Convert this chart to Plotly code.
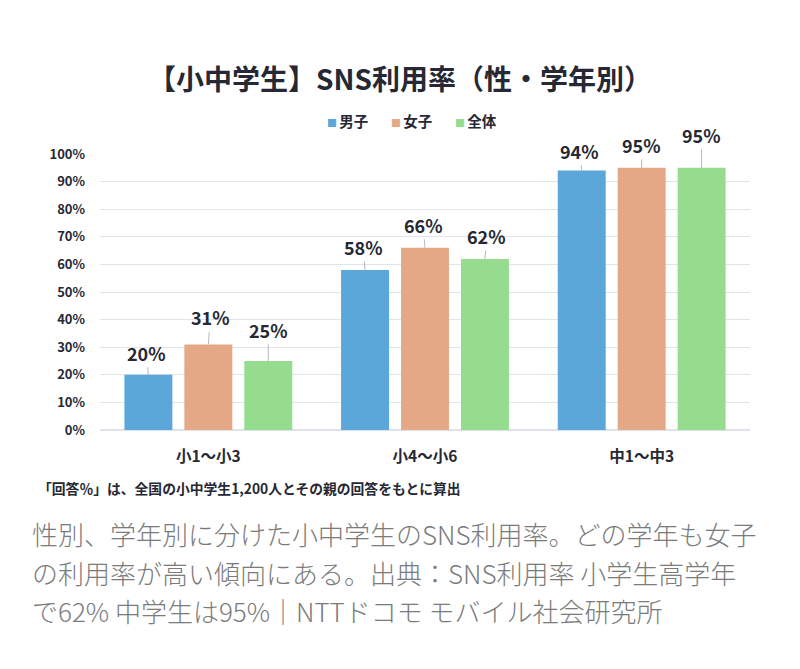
import plotly.graph_objects as go

# === data ===
grades = ["小1〜小3", "小4〜小6", "中1〜中3"]
boys = [20, 58, 94]
girls = [31, 66, 95]
total = [25, 62, 95]
series_names = ["男子", "女子", "全体"]
y_ticks = [0, 10, 20, 30, 40, 50, 60, 70, 80, 90, 100]
y_tick_labels = [f"{v}%" for v in y_ticks]

title_text = "【小中学生】SNS利用率（性・学年別）"
note_text = "「回答％」は、全国の小中学生1,200人とその親の回答をもとに算出"
caption_lines = [
    "性別、学年別に分けた小中学生のSNS利用率。どの学年も女子",
    "の利用率が高い傾向にある。出典：SNS利用率 小学生高学年",
    "で62% 中学生は95%｜NTTドコモ モバイル社会研究所",
]

# === style ===
colors = ["#5ba7d9", "#e5a886", "#95dc8f"]
font_jp = "Noto Sans CJK JP"
dark = "#262833"
# label offsets (px) above bar tops, per series per group
label_dy = [[22, 23, 20], [27, 23, 23], [31, 23, 33]]
label_dx = [[-2, -2, -2], [2, -2, 0], [0, 2, 0]]
legend_x = [325, 389, 453]  # left edge of each legend entry (reference px)

W, H = 800, 669
OFF = 8  # page body margin in the browser
L, R, T, B = 100 - OFF, 800 - 750 + OFF, 154 - OFF, 669 - 430 + OFF
plot_h = H - T - B
plot_w = W - L - R


def py(px):  # reference pixel y -> paper y
    return (430 - px) / plot_h


def px_(px):  # reference pixel x -> paper x
    return (px - 100) / plot_w


fig = go.Figure()
all_vals = [boys, girls, total]
for name, vals, c in zip(series_names, all_vals, colors):
    fig.add_trace(go.Bar(
        x=grades, y=vals, name=name,
        marker=dict(color=c, line=dict(width=0)),
        offsetgroup=name,
        hoverinfo="skip",
    ))

fig.update_layout(
    width=W, height=H,
    margin=dict(l=L, r=R, t=T, b=B, autoexpand=False),
    paper_bgcolor="white", plot_bgcolor="white",
    barmode="group", bargap=0.17, bargroupgap=0.2,
    font=dict(family=font_jp, color=dark),
    showlegend=False,
    xaxis=dict(
        showgrid=False, zeroline=False, showline=False,
        ticks="outside", ticklen=12, tickcolor="rgba(0,0,0,0)",
        tickfont=dict(size=15.5, color=dark, family=font_jp, weight="bold"),
        fixedrange=True,
    ),
    yaxis=dict(
        range=[0, 100], tickvals=y_ticks, ticktext=y_tick_labels,
        showgrid=True, gridcolor="#e1e4eb", gridwidth=1,
        zeroline=True, zerolinecolor="#dfe2e9", zerolinewidth=1.5,
        showline=False, ticks="", ticklabelstandoff=14,
        tickfont=dict(size=13, color=dark, family=font_jp, weight="bold"),
        fixedrange=True,
    ),
)

# data labels with thin leader lines, shifted onto each bar of the group
slot = plot_w / len(grades) * (1 - 0.17) / 3
for si, vals in enumerate(all_vals):
    for gi, v in enumerate(vals):
        fig.add_annotation(
            x=gi, y=v, xref="x", yref="y",
            text=f"{v}%", showarrow=True, arrowhead=0, arrowwidth=0.8,
            arrowcolor="#a3a5ab", ax=label_dx[si][gi], ay=-label_dy[si][gi],
            xshift=(si - 1) * slot,
            font=dict(size=18, color=dark, family=font_jp, weight="bold"),
        )

# legend drawn as text: coloured square glyph + series name
for name, c, lx in zip(series_names, colors, legend_x):
    fig.add_annotation(
        x=px_(lx), y=py(121), xref="paper", yref="paper", showarrow=False,
        text=f"<span style='color:{c};font-size:10px'>■ </span>{name}",
        xanchor="left", yanchor="middle",
        font=dict(size=14.5, color=dark, family=font_jp, weight="bold"),
    )

fig.add_annotation(
    x=px_(400), y=py(78), xref="paper", yref="paper", showarrow=False,
    text=title_text, xanchor="center", yanchor="middle",
    font=dict(size=28, color=dark, family=font_jp, weight="bold"),
)
fig.add_annotation(
    x=px_(36), y=py(488), xref="paper", yref="paper", showarrow=False,
    text=note_text, xanchor="left", yanchor="middle",
    font=dict(size=13.8, color=dark, family=font_jp, weight="bold"),
)
for line, ypx in zip(caption_lines, [533, 572, 610]):
    fig.add_annotation(
        x=px_(30), y=py(ypx), xref="paper", yref="paper", showarrow=False,
        text=line, xanchor="left", yanchor="middle",
        font=dict(size=26, color="#7b7b7b", family=font_jp, weight=300),
    )

fig.write_html("out.html", config={"displayModeBar": False})
